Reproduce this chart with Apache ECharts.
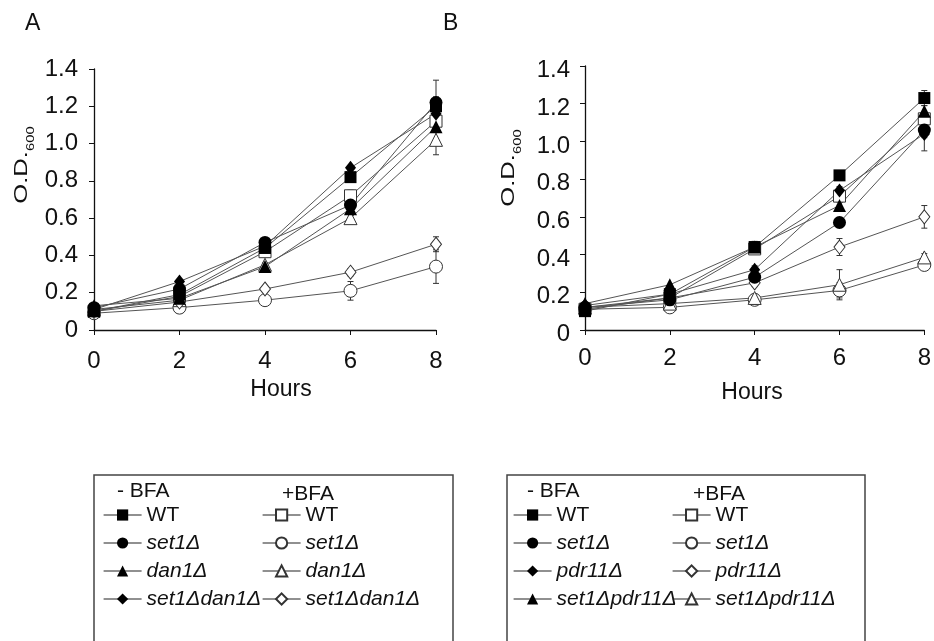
<!DOCTYPE html>
<html>
<head>
<meta charset="utf-8">
<script src="https://cdn.jsdelivr.net/npm/echarts@6/dist/echarts.min.js"></script>
<style>
  html, body { margin: 0; padding: 0; background: #fff; }
  #chart { width: 934px; height: 641px; }
</style>
</head>
<body>
<div id="chart"></div>
<script>
const FONT = '"Liberation Sans", Arial, sans-serif';
const INK = '#111';
const LINE = '#555';

// time points (h)
const hours = [0, 2, 4, 6, 8];
const yTicks = [0, 0.2, 0.4, 0.6, 0.8, 1.0, 1.2, 1.4];

// Panel A : set1 / dan1
const labelsA = ['WT', 'set1Δ', 'dan1Δ', 'set1Δdan1Δ'];
const aWtMinus = [0.10, 0.19, 0.44, 0.82, 1.20];
const aSet1Minus = [0.12, 0.22, 0.47, 0.67, 1.22];
const aDan1Minus = [0.13, 0.17, 0.34, 0.65, 1.09];
const aDoubleMinus = [0.11, 0.26, 0.45, 0.87, 1.16];
const aWtPlus = [0.10, 0.18, 0.42, 0.72, 1.12];
const aSet1Plus = [0.09, 0.12, 0.16, 0.21, 0.34];
const aDan1Plus = [0.11, 0.16, 0.35, 0.60, 1.02];
const aDoublePlus = [0.10, 0.15, 0.22, 0.31, 0.46];
// error (SD), 0 = none drawn
const aWtMinusErr = [0, 0, 0.02, 0.02, 0.05];
const aSet1MinusErr = [0, 0, 0.01, 0.02, 0.12];
const aDan1MinusErr = [0, 0, 0, 0.02, 0.03];
const aDoubleMinusErr = [0, 0, 0, 0, 0.03];
const aWtPlusErr = [0, 0, 0.02, 0.03, 0.04];
const aSet1PlusErr = [0, 0.01, 0.02, 0.05, 0.09];
const aDan1PlusErr = [0, 0, 0.01, 0.02, 0.08];
const aDoublePlusErr = [0, 0, 0.01, 0.02, 0.04];

// Panel B : set1 / pdr11
const labelsB = ['WT', 'set1Δ', 'pdr11Δ', 'set1Δpdr11Δ'];
const bWtMinus = [0.10, 0.19, 0.44, 0.82, 1.23];
const bSet1Minus = [0.12, 0.16, 0.28, 0.57, 1.06];
const bPdrMinus = [0.13, 0.19, 0.32, 0.74, 1.04];
const bDoubleMinus = [0.14, 0.24, 0.44, 0.66, 1.16];
const bWtPlus = [0.11, 0.17, 0.43, 0.71, 1.12];
const bSet1Plus = [0.11, 0.12, 0.16, 0.21, 0.345];
const bPdrPlus = [0.12, 0.17, 0.25, 0.44, 0.60];
const bDoublePlus = [0.12, 0.14, 0.17, 0.24, 0.385];
const bWtMinusErr = [0, 0, 0.03, 0.02, 0.04];
const bSet1MinusErr = [0, 0, 0.02, 0.02, 0.04];
const bPdrMinusErr = [0, 0, 0.02, 0.02, 0.09];
const bDoubleMinusErr = [0, 0, 0, 0.02, 0.03];
const bWtPlusErr = [0, 0, 0.02, 0.03, 0.03];
const bSet1PlusErr = [0, 0.01, 0.02, 0.04, 0.02];
const bPdrPlusErr = [0, 0.01, 0.02, 0.045, 0.06];
const bDoublePlusErr = [0, 0, 0.02, 0.08, 0.02];

// marker shapes per strain (style, not data)
const symbolsA = ['rect', 'circle', 'triangle', 'diamond'];
const symbolsB = ['rect', 'circle', 'diamond', 'triangle'];
const SIZES = { rect: 12, circle: 13, triangle: 13, diamond: [11, 14] };

const panels = [
  {
    key: 'A', labels: labelsA, symbols: symbolsA,
    minus: [aWtMinus, aSet1Minus, aDan1Minus, aDoubleMinus],
    plus: [aWtPlus, aSet1Plus, aDan1Plus, aDoublePlus],
    minusErr: [aWtMinusErr, aSet1MinusErr, aDan1MinusErr, aDoubleMinusErr],
    plusErr: [aWtPlusErr, aSet1PlusErr, aDan1PlusErr, aDoublePlusErr]
  },
  {
    key: 'B', labels: labelsB, symbols: symbolsB,
    minus: [bWtMinus, bSet1Minus, bPdrMinus, bDoubleMinus],
    plus: [bWtPlus, bSet1Plus, bPdrPlus, bDoublePlus],
    minusErr: [bWtMinusErr, bSet1MinusErr, bPdrMinusErr, bDoubleMinusErr],
    plusErr: [bWtPlusErr, bSet1PlusErr, bPdrPlusErr, bDoublePlusErr]
  }
];

// series name -> legend text
const displayName = {};

function lineSeries(name, values, symbol, filled, axis) {
  return {
    name: name,
    type: 'line',
    xAxisIndex: axis,
    yAxisIndex: axis,
    data: hours.map((h, i) => [h, values[i]]),
    symbol: symbol,
    symbolSize: SIZES[symbol],
    showSymbol: true,
    clip: false,
    animation: false,
    z: 3,
    lineStyle: { color: LINE, width: 1 },
    itemStyle: filled
      ? { color: '#000', borderColor: '#000', borderWidth: 0 }
      : { color: '#fff', borderColor: '#333', borderWidth: 1 },
    emphasis: { disabled: true }
  };
}

function errorSeries(values, errs, axis) {
  const data = [];
  hours.forEach((h, i) => {
    if (errs[i] > 0) data.push([h, values[i] - errs[i], values[i] + errs[i]]);
  });
  return {
    type: 'custom',
    xAxisIndex: axis,
    yAxisIndex: axis,
    silent: true,
    clip: false,
    animation: false,
    z: 2,
    data: data,
    renderItem: (params, api) => {
      const lo = api.coord([api.value(0), api.value(1)]);
      const hi = api.coord([api.value(0), api.value(2)]);
      const w = 3;
      const style = { stroke: '#333', lineWidth: 1 };
      return {
        type: 'group',
        children: [
          { type: 'line', shape: { x1: lo[0], y1: lo[1], x2: hi[0], y2: hi[1] }, style: style },
          { type: 'line', shape: { x1: lo[0] - w, y1: lo[1], x2: lo[0] + w, y2: lo[1] }, style: style },
          { type: 'line', shape: { x1: hi[0] - w, y1: hi[1], x2: hi[0] + w, y2: hi[1] }, style: style }
        ]
      };
    }
  };
}

const series = [];
const legendNames = [];
panels.forEach((p, axis) => {
  const minusNames = [];
  const plusNames = [];
  p.labels.forEach((label, i) => {
    const nMinus = p.key + '-' + i;
    const nPlus = p.key + '+' + i;
    displayName[nMinus] = label;
    displayName[nPlus] = label;
    minusNames.push(nMinus);
    plusNames.push(nPlus);
    series.push(errorSeries(p.minus[i], p.minusErr[i], axis));
    series.push(errorSeries(p.plus[i], p.plusErr[i], axis));
  });
  // open markers first, filled on top
  p.labels.forEach((label, i) => {
    series.push(lineSeries(p.key + '+' + i, p.plus[i], p.symbols[i], false, axis));
  });
  p.labels.forEach((label, i) => {
    series.push(lineSeries(p.key + '-' + i, p.minus[i], p.symbols[i], true, axis));
  });
  legendNames.push(minusNames, plusNames);
});

function fmtLegend(name) {
  const t = displayName[name];
  return t === 'WT' ? t : '{i|' + t + '}';
}

const legendText = {
  fontSize: 21, color: INK, fontFamily: FONT, lineHeight: 22,
  rich: { i: { fontSize: 21, fontStyle: 'italic', color: INK, fontFamily: FONT, lineHeight: 22 } }
};

function legendCol(names, left) {
  return {
    data: names,
    orient: 'vertical',
    left: left,
    top: 504,
    padding: 0,
    itemWidth: 38,
    itemHeight: 14,
    itemGap: 6,
    selectedMode: false,
    formatter: fmtLegend,
    lineStyle: { color: '#222', width: 1.2 },
    textStyle: legendText
  };
}

const axisLabelStyle = { fontSize: 24, color: INK, fontFamily: FONT };

function xAxis(grid, margin) {
  return {
    type: 'value', gridIndex: grid, min: 0, max: 8, interval: 2,
    axisLine: { show: true, onZero: false, lineStyle: { color: '#111', width: 1.3 } },
    axisTick: { show: true, length: 5, lineStyle: { color: '#111' } },
    splitLine: { show: false },
    axisLabel: Object.assign({ margin: margin }, axisLabelStyle)
  };
}

function yAxis(grid, margin, extra) {
  return {
    type: 'value', gridIndex: grid, min: yTicks[0], max: yTicks[yTicks.length - 1], interval: 0.2,
    axisLine: { show: true, onZero: false, lineStyle: { color: '#111', width: 1.3 } },
    axisTick: { show: true, length: 5, lineStyle: { color: '#111' } },
    splitLine: { show: false },
    axisLabel: Object.assign({
      margin: margin,
      formatter: v => (v === 0 ? '0' : v.toFixed(1))
    }, axisLabelStyle, extra)
  };
}

function yName(x, y) {
  return {
    type: 'text', x: x, y: y, rotation: Math.PI / 2, scaleX: 1.35,
    style: {
      text: '{a|O.D.}{s|600}',
      align: 'center', verticalAlign: 'middle', fill: INK,
      rich: {
        a: { fontSize: 19, fontFamily: FONT, lineHeight: 28, verticalAlign: 'middle', fill: INK },
        s: { fontSize: 11, fontFamily: FONT, lineHeight: 11, verticalAlign: 'bottom', fill: INK }
      }
    }
  };
}

function plainText(text, x, y, size, align) {
  return {
    type: 'text', x: x, y: y,
    style: { text: text, fontSize: size, fontFamily: FONT, fill: INK, align: align || 'left', verticalAlign: 'middle' }
  };
}

function box(x, w) {
  return {
    type: 'rect', shape: { x: x, y: 475, width: w, height: 300 },
    style: { fill: 'none', stroke: '#444', lineWidth: 1.5 }, z: 0
  };
}

const option = {
  backgroundColor: '#fff',
  animation: false,
  grid: [
    { left: 94, top: 69, width: 342, height: 261 },
    { left: 585, top: 66, width: 341, height: 264 }
  ],
  xAxis: [xAxis(0, 19), xAxis(1, 16)],
  yAxis: [yAxis(0, 16, {}), yAxis(1, 15, { verticalAlign: 'top', lineHeight: 9 })],
  legend: [
    legendCol(legendNames[0], 103),
    legendCol(legendNames[1], 262),
    legendCol(legendNames[2], 513),
    legendCol(legendNames[3], 672)
  ],
  graphic: [
    plainText('A', 25, 24, 23),
    plainText('B', 443, 24, 23),
    yName(22, 165),
    yName(509, 168),
    plainText('Hours', 281, 390, 23, 'center'),
    plainText('Hours', 752, 393, 23, 'center'),
    box(94, 359),
    box(507, 358),
    plainText('- BFA', 117, 491, 21),
    plainText('+BFA', 282, 494, 21),
    plainText('- BFA', 527, 491, 21),
    plainText('+BFA', 693, 494, 21)
  ],
  series: series
};

const chart = echarts.init(document.getElementById('chart'));
chart.setOption(option);
</script>
</body>
</html>
